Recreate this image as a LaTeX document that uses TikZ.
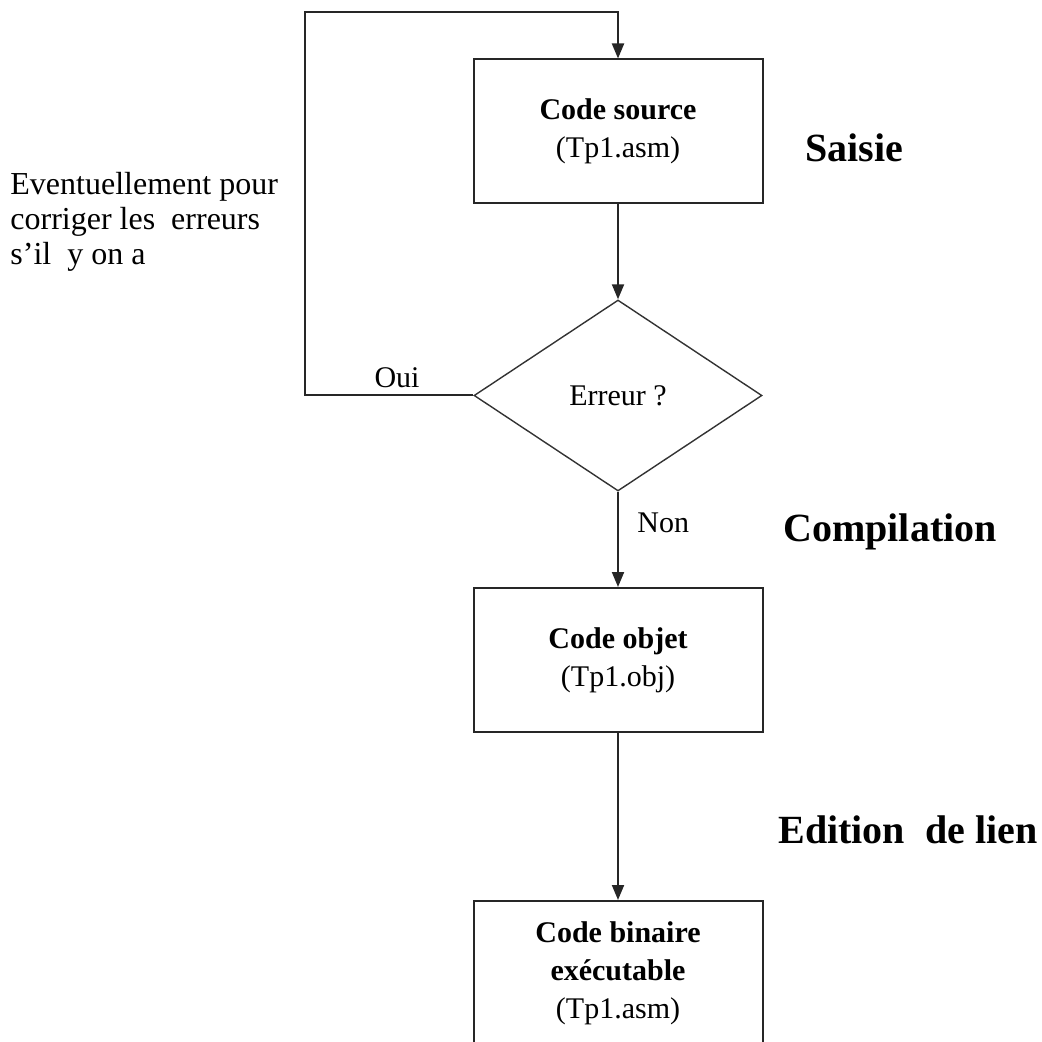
\documentclass[tikz,border=0pt]{standalone}
\usepackage{fontspec}
\setmainfont{Liberation Serif}
\usetikzlibrary{shapes.geometric,arrows.meta}
\begin{document}
\begin{tikzpicture}[x=0.5pt,y=-0.5pt,
  box/.style={draw=black!85, line width=1pt, minimum width=144.5pt,
    minimum height=72pt, inner sep=0pt, align=center,
    font=\fontsize{15}{19}\selectfont},
  decision/.style={draw=black!80, line width=0.7pt, diamond,
    minimum width=144pt, minimum height=95.5pt, inner sep=0pt,
    font=\fontsize{15}{19}\selectfont},
  arr/.style={draw=black!85, line width=1pt,
    -{Triangle[length=7.5pt,width=6pt]}},
  link/.style={draw=black!85, line width=1pt},
  stage/.style={anchor=west, inner sep=0pt,
    font=\fontsize{20}{24}\bfseries\selectfont},
  tag/.style={inner sep=0pt, font=\fontsize{15}{19}\selectfont},
  note/.style={inner sep=0pt, align=left, anchor=west,
    font=\fontsize{16}{17.5}\selectfont}
]
\useasboundingbox (0,0) rectangle (1042,1042);
\clip (0,0) rectangle (1042,1042);

% flowchart blocks
\node[box] (src) at (618,131.5) {\textbf{Code source}\\(Tp1.asm)};
\node[decision] (err) at (618,395.5) {Erreur ?};
\node[box] (obj) at (618,660) {\textbf{Code objet}\\(Tp1.obj)};
\node[box] (bin) at (618,973) {\textbf{Code binaire}\\\textbf{exécutable}\\(Tp1.asm)};

% return path when errors are found
\coordinate (loop) at (305,12);
\draw[arr] (err.west) -| (loop) -| (src.north);
\node[tag] (oui) at (397,378) {Oui};

% main chain
\draw[arr] (src.south) -- (err.north);
\draw[arr] (err.south) -- (obj.north);
\node[tag, anchor=west] (non) at (637,523) {Non};
\draw[arr] (obj.south) -- (bin.north);

% stage names
\node[stage] (saisie) at (805,148) {Saisie};
\node[stage] (comp) at (783,532) {Compilation};
\node[stage] (edit) at (778,830) {Edition\ \ de lien};

% side remark
\node[note] (rem) at (10,222) {Eventuellement pour\\corriger les\ \ erreurs\\s’il\ \ y on a};
\end{tikzpicture}
\end{document}
